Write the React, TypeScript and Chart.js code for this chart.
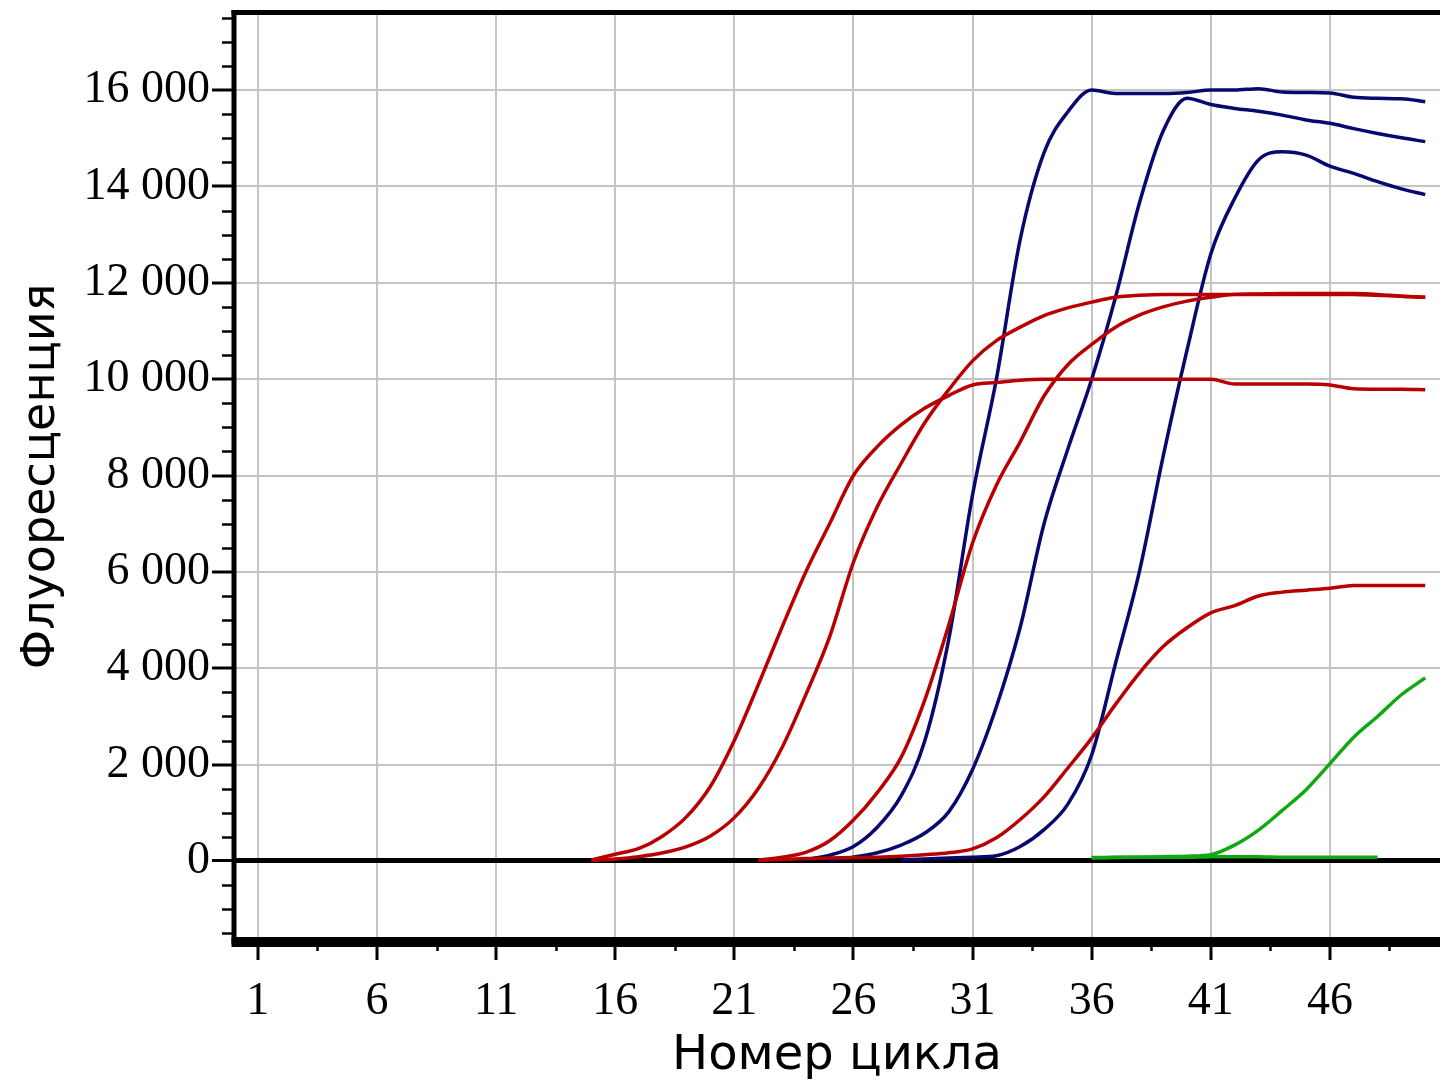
import React, { useEffect, useRef } from 'react';
import { Chart, registerables } from 'chart.js';

Chart.register(...registerables);

// ---- axis ticks ----
const X_TICKS = [1, 6, 11, 16, 21, 26, 31, 36, 41, 46];
const X_MINOR = [3.5, 8.5, 13.5, 18.5, 23.5, 28.5, 33.5, 38.5, 43.5, 48.5];
const Y_TICKS = [0, 2000, 4000, 6000, 8000, 10000, 12000, 14000, 16000];
const Y_MINOR = [-1500, -1000, -500, 500, 1000, 1500, 2500, 3000, 3500, 4500, 5000, 5500, 6500, 7000, 7500, 8500, 9000, 9500, 10500, 11000, 11500, 12500, 13000, 13500, 14500, 15000, 15500, 16500, 17000, 17500];

const X_TITLE = 'Номер цикла';
const Y_TITLE = 'Флуоресценция';

// ---- series (value per cycle, beginning at the start cycle) ----
const RED1_START = 15;
const RED1 = [20, 140, 260, 520, 920, 1550, 2500, 3650, 4850, 6000, 7000, 8000, 8600, 9050, 9400, 9660, 9880, 9930, 9980, 10000, 10000, 10000, 10000, 10000, 10000, 10000, 10000, 9900, 9900, 9900, 9900, 9880, 9800, 9790, 9790, 9780];

const RED2_START = 15;
const RED2 = [10, 40, 90, 170, 300, 520, 900, 1500, 2350, 3450, 4650, 6200, 7350, 8250, 9100, 9780, 10380, 10800, 11080, 11320, 11480, 11600, 11700, 11740, 11760, 11760, 11760, 11760, 11760, 11760, 11760, 11760, 11760, 11740, 11720, 11700];

const RED3_START = 22;
const RED3 = [20, 80, 180, 420, 850, 1420, 2150, 3350, 4900, 6600, 7800, 8700, 9650, 10300, 10720, 11080, 11330, 11500, 11620, 11700, 11760, 11770, 11780, 11780, 11780, 11780, 11760, 11720, 11700];

const RED4_START = 22;
const RED4 = [10, 30, 50, 60, 70, 80, 100, 130, 170, 250, 480, 860, 1330, 1930, 2550, 3250, 3900, 4450, 4840, 5150, 5300, 5500, 5580, 5620, 5660, 5720, 5720, 5720, 5720];

const BLUE1_START = 24;
const BLUE1 = [30, 120, 300, 700, 1350, 2500, 4600, 7600, 10000, 12900, 14700, 15550, 16000, 15930, 15930, 15930, 15950, 16000, 16000, 16030, 15960, 15950, 15940, 15850, 15830, 15820, 15760];

const BLUE2_START = 25;
const BLUE2 = [20, 80, 170, 330, 580, 1020, 1900, 3200, 4850, 7000, 8550, 10000, 11700, 13650, 15150, 15830, 15700, 15620, 15560, 15480, 15380, 15310, 15200, 15100, 15010, 14930];

const BLUE3_START = 28;
const BLUE3 = [20, 40, 60, 80, 110, 300, 650, 1180, 2200, 4100, 6000, 8400, 10600, 12600, 13750, 14550, 14720, 14650, 14420, 14270, 14100, 13950, 13830];

const GREEN1_START = 36;
const GREEN1 = [70, 80, 80, 80, 80, 90, 90, 90, 80, 80, 80, 80, 80];

const GREEN2_START = 36;
const GREEN2 = [60, 70, 80, 90, 100, 130, 330, 640, 1050, 1480, 2020, 2570, 3000, 3450, 3800];

const RED = '#b80000';
const BLUE = '#08086e';
const GREEN = '#12a812';

function pts(start: number, values: number[]) {
  return values.map((y, i) => ({ x: start + i, y }));
}

function fmtY(v: number) {
  if (v === 0) return '0';
  return `${Math.round(v / 1000)} 000`;
}

const framePlugin = {
  id: 'frame',
  afterDraw(chart: any) {
    const { ctx, chartArea, scales } = chart;
    const { left, right, top, bottom } = chartArea;
    const x = scales.x;
    const y = scales.y;
    const line = (x1: number, y1: number, x2: number, y2: number) => {
      ctx.beginPath();
      ctx.moveTo(x1, y1);
      ctx.lineTo(x2, y2);
      ctx.stroke();
    };
    ctx.save();
    ctx.strokeStyle = '#000';
    ctx.lineWidth = 2.5;
    Y_MINOR.forEach((v) => {
      const py = Math.round(y.getPixelForValue(v)) + 0.5;
      line(left - 12, py, left, py);
    });
    X_MINOR.forEach((v) => {
      const px = Math.round(x.getPixelForValue(v)) + 0.5;
      line(px, bottom, px, bottom + 11);
    });
    ctx.lineWidth = 5;
    line(left - 2.5, top - 0.5, right, top - 0.5);
    line(left, top - 3, left, bottom + 4);
    ctx.lineWidth = 10;
    line(left - 2.5, bottom + 2, right, bottom + 2);
    ctx.restore();
  },
};

export default function App() {
  const ref = useRef<HTMLCanvasElement>(null);

  useEffect(() => {
    const mk = (data: { x: number; y: number }[], color: string) => ({
      data,
      borderColor: color,
      backgroundColor: color,
      borderWidth: 3.5,
      pointRadius: 0,
      fill: false,
      cubicInterpolationMode: 'monotone' as const,
    });
    const chart = new Chart(ref.current!, {
      type: 'line',
      data: {
        datasets: [
          mk(pts(RED1_START, RED1), RED),
          mk(pts(RED2_START, RED2), RED),
          mk(pts(RED3_START, RED3), RED),
          mk(pts(RED4_START, RED4), RED),
          mk(pts(BLUE1_START, BLUE1), BLUE),
          mk(pts(BLUE2_START, BLUE2), BLUE),
          mk(pts(BLUE3_START, BLUE3), BLUE),
          mk(pts(GREEN1_START, GREEN1), GREEN),
          mk(pts(GREEN2_START, GREEN2), GREEN),
        ],
      },
      options: {
        responsive: false,
        animation: false,
        devicePixelRatio: 1,
        layout: { padding: { top: 13, right: 0, bottom: 0, left: 0 } },
        plugins: { legend: { display: false }, tooltip: { enabled: false } },
        scales: {
          x: {
            type: 'linear',
            min: 0,
            max: 50.62,
            afterBuildTicks: (axis: any) => {
              axis.ticks = X_TICKS.map((v) => ({ value: v }));
            },
            afterFit: (axis: any) => {
              axis.height = 147;
              axis.paddingLeft = 0;
              axis.paddingRight = 0;
            },
            border: { display: false },
            grid: {
              color: '#c4c4c4',
              lineWidth: 2,
              tickLength: 20,
              tickColor: '#000',
              tickWidth: 3,
            },
            ticks: {
              autoSkip: false,
              maxRotation: 0,
              padding: 14,
              color: '#000',
              font: { family: 'Liberation Serif', size: 46 },
              callback: (v: any) => String(v),
            },
            title: {
              display: true,
              text: X_TITLE,
              color: '#000',
              font: { family: 'DejaVu Sans', size: 48 },
              padding: { top: 0, bottom: 2 },
            },
          },
          y: {
            type: 'linear',
            min: -1640,
            max: 17600,
            afterBuildTicks: (axis: any) => {
              axis.ticks = Y_TICKS.map((v) => ({ value: v }));
            },
            afterFit: (axis: any) => {
              axis.width = 234;
              axis.paddingTop = 0;
              axis.paddingBottom = 0;
            },
            border: { display: false },
            grid: {
              color: (c: any) => (c.tick && c.tick.value === 0 ? '#000' : '#c4c4c4'),
              lineWidth: (c: any) => (c.tick && c.tick.value === 0 ? 5 : 2),
              tickLength: 22,
              tickColor: '#000',
              tickWidth: 3,
            },
            ticks: {
              padding: 2,
              color: '#000',
              font: { family: 'Liberation Serif', size: 46 },
              callback: (v: any) => fmtY(Number(v)),
            },
            title: {
              display: true,
              text: Y_TITLE,
              color: '#000',
              font: { family: 'DejaVu Sans', size: 46 },
              padding: { top: 14, bottom: 0 },
            },
          },
        },
      },
      plugins: [framePlugin],
    });
    return () => chart.destroy();
  }, []);

  return (
    <div style={{ position: 'fixed', left: 0, top: 0, width: 1440, height: 1087, background: '#fff' }}>
      <canvas ref={ref} width={1440} height={1087} style={{ display: 'block', width: 1440, height: 1087 }} />
    </div>
  );
}
